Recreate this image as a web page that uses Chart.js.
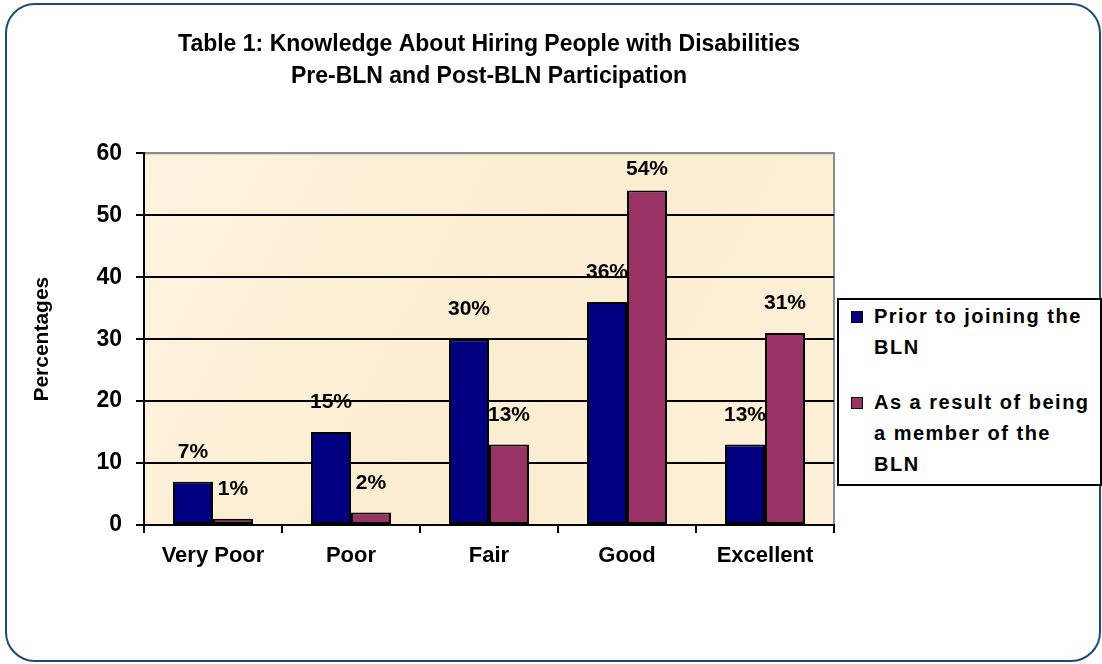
<!DOCTYPE html>
<html>
<head>
<meta charset="utf-8">
<script src="https://cdn.jsdelivr.net/npm/chart.js@4"></script>
<style>
  html, body { margin: 0; padding: 0; background: #fff; }
  #wrap { position: relative; width: 1102px; height: 664px; overflow: hidden; font-family: Arial, "Liberation Sans", sans-serif; }
  #frame { position: absolute; left: 5px; top: 3px; width: 1096px; height: 659px; box-sizing: border-box;
           border: 2.5px solid #1b4a7c; border-radius: 30px; }
  #chart { position: absolute; left: 0; top: 0; }
  #legend { position: absolute; left: 837px; top: 298px; width: 265px; height: 188px; box-sizing: border-box;
            border: 2px solid #000; background: #fff; padding: 1px 0 0 12px; }
  .item { position: relative; padding-left: 23px; margin-bottom: 24px; font-weight: bold; font-size: 20px;
          line-height: 31px; letter-spacing: 1.5px; color: #000; }
  .swatch { position: absolute; left: 0; top: 10px; width: 10px; height: 10px; border: 1.5px solid #000; }
</style>
</head>
<body>
<div id="wrap">
  <div id="frame"></div>
  <canvas id="chart" width="1102" height="664"></canvas>
  <div id="legend"></div>
</div>
<script>
const categories = ['Very Poor', 'Poor', 'Fair', 'Good', 'Excellent'];
const priorValues = [7, 15, 30, 36, 13];
const memberValues = [1, 2, 13, 54, 31];
const seriesLines = [
  ['Prior to joining the', 'BLN'],
  ['As a result of being', 'a member of the', 'BLN']
];
const seriesColors = ['#000080', '#993366'];
const titleLines = ['Table 1: Knowledge About Hiring People with Disabilities', 'Pre-BLN and Post-BLN Participation'];
const yTitle = 'Percentages';

const FONT = 'Arial, "Liberation Sans", sans-serif';

// legend built as html so the lines wrap like the original
const legendDiv = document.getElementById('legend');
seriesLines.forEach((lines, i) => {
  const item = document.createElement('div');
  item.className = 'item';
  item.innerHTML = '<span class="swatch" style="background:' + seriesColors[i] + '"></span>' + lines.join('<br>');
  legendDiv.appendChild(item);
});

const plotBackground = {
  id: 'plotBackground',
  beforeDraw(chart) {
    const { ctx, chartArea: a } = chart;
    ctx.save();
    const g = ctx.createLinearGradient(a.left, a.top, a.right, a.bottom);
    g.addColorStop(0, '#fdf3df');
    g.addColorStop(0.5, '#fbedd0');
    g.addColorStop(1, '#fcf0d8');
    ctx.fillStyle = g;
    ctx.fillRect(a.left, a.top, a.right - a.left, a.bottom - a.top);
    ctx.strokeStyle = '#8c8c8c';
    ctx.lineWidth = 2;
    ctx.beginPath();
    ctx.moveTo(a.left, a.top);
    ctx.lineTo(a.right, a.top);
    ctx.lineTo(a.right, a.bottom);
    ctx.stroke();
    ctx.restore();
  }
};

const valueLabels = {
  id: 'valueLabels',
  afterDatasetsDraw(chart) {
    const { ctx, chartArea: a } = chart;
    ctx.save();
    ctx.font = 'bold 21px ' + FONT;
    ctx.fillStyle = '#000';
    ctx.textAlign = 'center';
    ctx.textBaseline = 'bottom';
    chart.data.datasets.forEach((ds, i) => {
      chart.getDatasetMeta(i).data.forEach((bar, j) => {
        const y = Math.max(bar.y - 19, a.top + 26);
        ctx.fillText(ds.data[j] + '%', bar.x, y);
      });
    });
    ctx.restore();
  }
};

const chartData = {
  labels: categories,
  datasets: [
    { label: seriesLines[0].join(' '), data: priorValues, backgroundColor: seriesColors[0],
      borderColor: '#000', borderWidth: 2, borderSkipped: false, categoryPercentage: 0.58, barPercentage: 1.0 },
    { label: seriesLines[1].join(' '), data: memberValues, backgroundColor: seriesColors[1],
      borderColor: '#000', borderWidth: 2, borderSkipped: false, categoryPercentage: 0.58, barPercentage: 1.0 }
  ]
};

new Chart(document.getElementById('chart').getContext('2d'), {
  type: 'bar',
  data: chartData,
  options: {
    responsive: false,
    animation: false,
    layout: { padding: { left: 0, right: 268, top: 0, bottom: 0 } },
    plugins: {
      legend: { display: false },
      tooltip: { enabled: false },
      title: {
        display: true,
        fullSize: false,
        text: titleLines,
        color: '#000',
        font: { family: FONT, size: 23, weight: 'bold', lineHeight: 1.42 },
        padding: { top: 28, bottom: 60 }
      }
    },
    scales: {
      x: {
        afterFit: (scale) => { scale.height = 139; },
        grid: { offset: true, drawOnChartArea: false, color: '#000', lineWidth: 2, tickLength: 8 },
        border: { color: '#000', width: 2 },
        ticks: { color: '#000', padding: 10, font: { family: FONT, size: 22, weight: 'bold' } }
      },
      y: {
        min: 0,
        max: 60,
        afterFit: (scale) => { scale.width = 144; },
        ticks: { stepSize: 10, color: '#000', padding: 14, font: { family: FONT, size: 23, weight: 'bold' } },
        grid: {
          color: (c) => (c.tick && c.tick.value === 60 ? '#8c8c8c' : '#000'),
          tickColor: '#000',
          lineWidth: 2,
          tickLength: 8
        },
        border: { color: '#000', width: 2 },
        title: {
          display: true,
          text: yTitle,
          color: '#000',
          padding: { top: 30, bottom: 0 },
          font: { family: FONT, size: 21, weight: 'bold' }
        }
      }
    }
  },
  plugins: [plotBackground, valueLabels]
});
</script>
</body>
</html>
